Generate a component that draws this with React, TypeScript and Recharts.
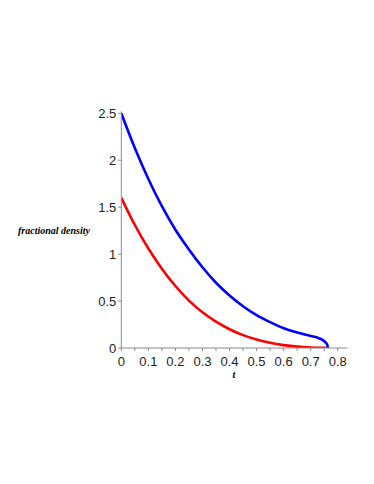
import { LineChart, Line, XAxis, YAxis } from 'recharts';

// t values and fractional densities
const blueT = [0, 0.05, 0.1, 0.15, 0.2, 0.25, 0.3, 0.35, 0.4, 0.45, 0.5, 0.55, 0.6, 0.65, 0.7, 0.73, 0.745, 0.755, 0.761, 0.764];
const blueY = [2.5, 2.13, 1.8, 1.51, 1.26, 1.05, 0.86, 0.695, 0.56, 0.445, 0.35, 0.275, 0.21, 0.165, 0.128, 0.104, 0.084, 0.06, 0.035, 0];

const redT = [0, 0.05, 0.1, 0.15, 0.2, 0.25, 0.3, 0.35, 0.4, 0.45, 0.5, 0.55, 0.6, 0.65, 0.7, 0.75, 0.764];
const redY = [1.6, 1.31, 1.06, 0.845, 0.66, 0.505, 0.38, 0.28, 0.2, 0.137, 0.09, 0.055, 0.031, 0.015, 0.006, 0.001, 0];

const xTicks = [0, 0.05, 0.1, 0.15, 0.2, 0.25, 0.3, 0.35, 0.4, 0.45, 0.5, 0.55, 0.6, 0.65, 0.7, 0.75, 0.8];
const yTicks = [0, 0.5, 1, 1.5, 2, 2.5];

const blueData = blueT.map((t, i) => ({ t, v: blueY[i] }));
const redData = redT.map((t, i) => ({ t, v: redY[i] }));

const axisColor = '#8a8a8a';
const tickFont = { fontFamily: 'Liberation Sans', fontSize: 13, fill: '#222' };

// label every 0.1, leave the 0.05 ticks bare
const fmtX = (v: number) => {
  const k = Math.round(v * 20);
  if (k % 2 !== 0) return '';
  return k === 0 ? '0' : (k / 20).toFixed(1);
};

export default function App() {
  return (
    <LineChart
      width={358}
      height={468}
      margin={{ top: 103.4, right: 18.8, left: 73.3, bottom: 98 }}
    >
      <XAxis
        type="number"
        dataKey="t"
        domain={[0, 0.835]}
        ticks={xTicks}
        tickFormatter={fmtX}
        interval={0}
        allowDataOverflow
        height={30}
        tickSize={3}
        tickMargin={6}
        stroke={axisColor}
        tick={tickFont}
        label={{
          content: () => (
            <text
              x={226}
              y={370}
              textAnchor="middle"
              fontFamily="Liberation Serif"
              fontStyle="italic"
              fontWeight="bold"
              fontSize={10}
              fill="#000"
            >
              t
            </text>
          ),
        }}
      />
      <YAxis
        type="number"
        domain={[0, 2.52]}
        ticks={yTicks}
        interval={0}
        allowDataOverflow
        width={40}
        tickSize={3}
        tickMargin={2}
        stroke={axisColor}
        tick={tickFont}
        label={{
          content: () => (
            <text
              x={10}
              y={226}
              fontFamily="Liberation Serif"
              fontStyle="italic"
              fontWeight="bold"
              fontSize={10}
              fill="#000"
            >
              fractional density
            </text>
          ),
        }}
      />
      <Line
        data={redData}
        dataKey="v"
        type="monotone"
        stroke="#ff0000"
        strokeWidth={2.6}
        dot={false}
        isAnimationActive={false}
      />
      <Line
        data={blueData}
        dataKey="v"
        type="monotone"
        stroke="#0000ff"
        strokeWidth={2.6}
        dot={false}
        isAnimationActive={false}
      />
    </LineChart>
  );
}
